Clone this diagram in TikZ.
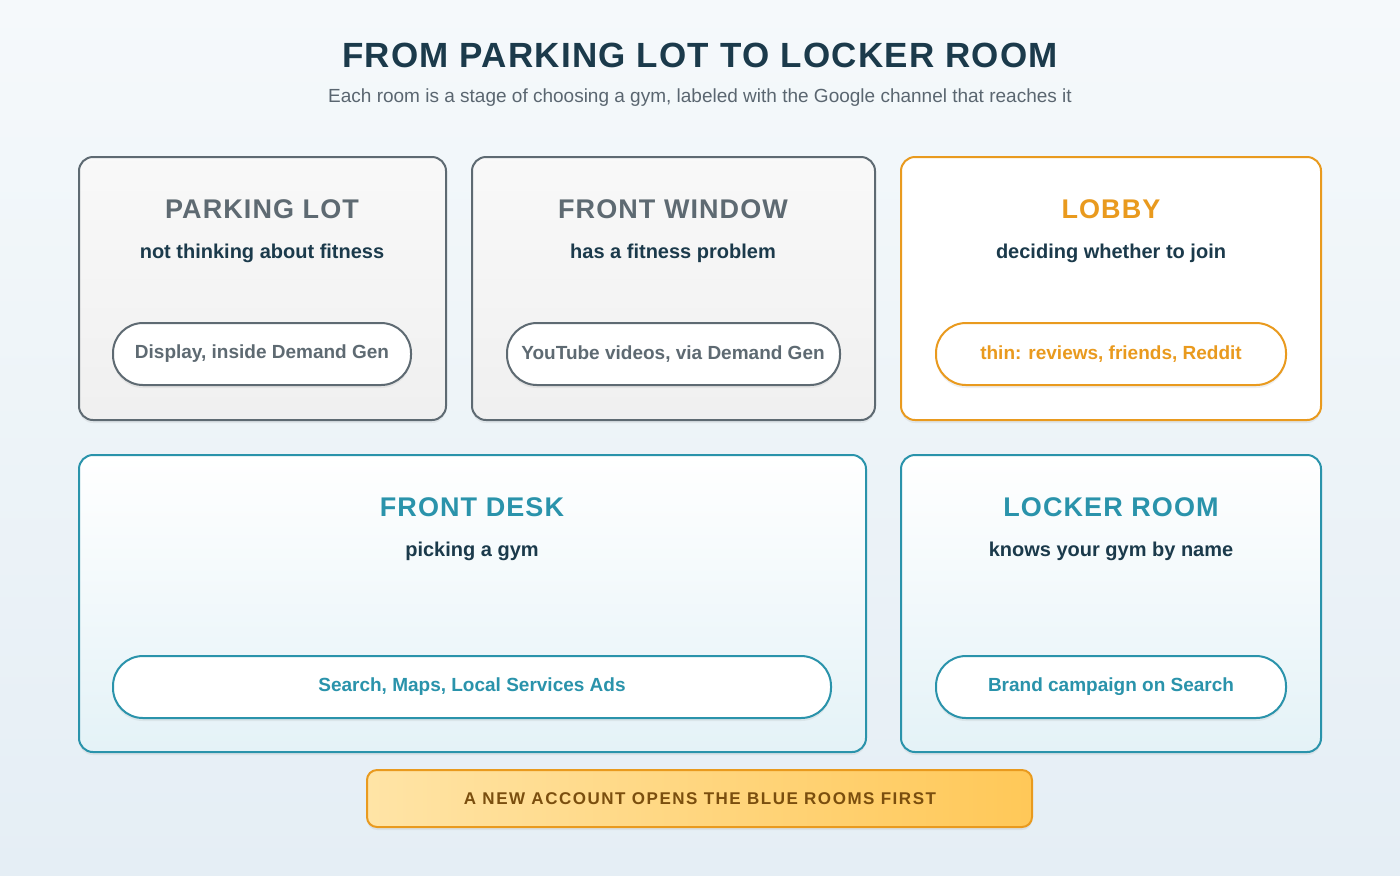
\documentclass[tikz,border=0pt]{standalone}
\usepackage{fontspec}
\setmainfont{Liberation Sans}
\usetikzlibrary{shadows}
\definecolor{navy}{HTML}{1B3A4B}
\definecolor{gry}{HTML}{5E6A72}
\definecolor{org}{HTML}{E99A1E}
\definecolor{tea}{HTML}{2A93AB}
\definecolor{sub}{HTML}{5A6670}
\definecolor{bgt}{HTML}{F5F9FB}
\definecolor{bgb}{HTML}{E5EEF5}
\definecolor{tlb}{HTML}{E4F2F7}
\definecolor{bnl}{HTML}{FFE4A6}
\definecolor{bnr}{HTML}{FFC858}
\definecolor{bnt}{HTML}{7A4E0E}
\begin{document}
\begin{tikzpicture}[x=0.5pt,y=-0.5pt,
 room/.style={rounded corners=7pt,line width=1pt,drop shadow={shadow xshift=0pt,shadow yshift=-1.5pt,opacity=.12}},
 pill/.style={rounded corners=15pt,line width=1pt,fill=white,drop shadow={shadow xshift=0pt,shadow yshift=-1.5pt,opacity=.12}},
 rt/.style={font=\fontsize{13.5}{16}\selectfont\bfseries\addfontfeatures{LetterSpace=4}},
 st/.style={font=\fontsize{10}{12}\selectfont\bfseries,text=navy},
 pt/.style={font=\fontsize{9.5}{11}\selectfont\bfseries}]
\shade[top color=bgt,bottom color=bgb] (0,0) rectangle (1400,875);
\useasboundingbox (0,0) rectangle (1400,875);
\node[font=\fontsize{17.5}{20}\selectfont\bfseries\addfontfeatures{LetterSpace=3.5},text=navy] (title) at (700,55) {FROM PARKING LOT TO LOCKER ROOM};
\node[font=\fontsize{9.5}{11}\selectfont,text=sub] (subt) at (700,98) {Each room is a stage of choosing a gym, labeled with the Google channel that reaches it};
% row 1
\path[room,draw=gry,top color=white!95!gray,bottom color=gray!12] (79,157) rectangle (446,420);
\node[rt,text=gry] (r1) at (262,209) {PARKING LOT};
\node[st] (s1) at (262,253) {not thinking about fitness};
\path[pill,draw=gry] (113,323) rectangle (411,385);
\node[pt,text=gry] (p1) at (262,354) {Display, inside Demand Gen};
\path[room,draw=gry,top color=white!95!gray,bottom color=gray!12] (472,157) rectangle (875,420);
\node[rt,text=gry] (r2) at (673,209) {FRONT WINDOW};
\node[st] (s2) at (673,253) {has a fitness problem};
\path[pill,draw=gry] (507,323) rectangle (840,385);
\node[pt,text=gry] (p2) at (673,354) {YouTube videos, via Demand Gen};
\path[room,draw=org,fill=white] (901,157) rectangle (1321,420);
\node[rt,text=org] (r3) at (1111,209) {LOBBY};
\node[st] (s3) at (1111,253) {deciding whether to join};
\path[pill,draw=org] (936,323) rectangle (1286,385);
\node[pt,text=org] (p3) at (1111,354) {thin: reviews, friends, Reddit};
% row 2
\path[room,draw=tea,top color=white,bottom color=tlb] (79,455) rectangle (866,752);
\node[rt,text=tea] (r4) at (472,507) {FRONT DESK};
\node[st] (s4) at (472,551) {picking a gym};
\path[pill,draw=tea] (113,656) rectangle (831,718);
\node[pt,text=tea] (p4) at (472,687) {Search, Maps, Local Services Ads};
\path[room,draw=tea,top color=white,bottom color=tlb] (901,455) rectangle (1321,752);
\node[rt,text=tea] (r5) at (1111,507) {LOCKER ROOM};
\node[st] (s5) at (1111,551) {knows your gym by name};
\path[pill,draw=tea] (936,656) rectangle (1286,718);
\node[pt,text=tea] (p5) at (1111,687) {Brand campaign on Search};
% banner
\path[rounded corners=5pt,draw=org,line width=1pt,left color=bnl,right color=bnr,drop shadow={shadow xshift=0pt,shadow yshift=-1.5pt,opacity=.12}] (367,770) rectangle (1032,827);
\node[font=\fontsize{8.5}{10}\selectfont\bfseries\addfontfeatures{LetterSpace=9},text=bnt] (b) at (700,799) {A NEW ACCOUNT OPENS THE BLUE ROOMS FIRST};
\end{tikzpicture}
\end{document}
